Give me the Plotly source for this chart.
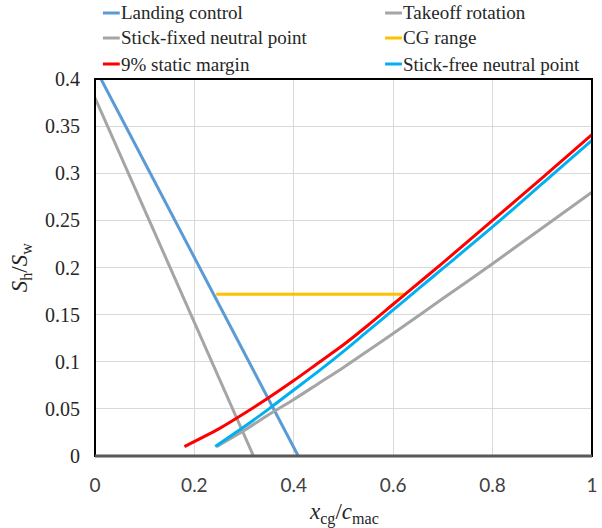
import plotly.graph_objects as go

# --- data -------------------------------------------------------------
landing_x = [0.012, 0.409]
landing_y = [0.400, 0.000]

takeoff_x = [0.000, 0.319]
takeoff_y = [0.380, 0.000]

fixed_np_x = [0.245, 0.30, 0.35, 0.40, 0.45, 0.50, 0.55, 0.60, 0.70, 0.80, 0.90, 1.00]
fixed_np_y = [0.010, 0.027, 0.044, 0.060, 0.077, 0.094, 0.112, 0.130, 0.167, 0.204, 0.242, 0.280]

cg_range_x = [0.244, 0.623]
cg_range_y = [0.1715, 0.1715]

margin9_x = [0.18, 0.25, 0.30, 0.35, 0.40, 0.45, 0.50, 0.55, 0.60, 0.625, 0.70, 0.80, 0.90, 1.00]
margin9_y = [0.010, 0.029, 0.045, 0.062, 0.080, 0.099, 0.118, 0.139, 0.161, 0.172, 0.205, 0.250, 0.295, 0.341]

free_np_x = [0.242, 0.30, 0.35, 0.40, 0.45, 0.50, 0.55, 0.60, 0.65, 0.70, 0.80, 0.90, 1.00]
free_np_y = [0.010, 0.031, 0.050, 0.070, 0.090, 0.111, 0.133, 0.155, 0.177, 0.199, 0.243, 0.289, 0.335]

x_ticks = [0, 0.2, 0.4, 0.6, 0.8, 1]
x_tick_text = ["0", "0.2", "0.4", "0.6", "0.8", "1"]
y_ticks = [0, 0.05, 0.1, 0.15, 0.2, 0.25, 0.3, 0.35, 0.4]
y_tick_text = ["0", "0.05", "0.1", "0.15", "0.2", "0.25", "0.3", "0.35", "0.4"]

series = [
    ("Landing control", landing_x, landing_y, "#5B9BD5"),
    ("Takeoff rotation", takeoff_x, takeoff_y, "#A5A5A5"),
    ("Stick-fixed neutral point", fixed_np_x, fixed_np_y, "#A5A5A5"),
    ("CG range", cg_range_x, cg_range_y, "#FFC000"),
    ("9% static margin", margin9_x, margin9_y, "#FF0000"),
    ("Stick-free neutral point", free_np_x, free_np_y, "#00B0F0"),
]

SERIF = "Liberation Serif, Times New Roman, serif"

# --- figure -----------------------------------------------------------
W, H = 602, 528
L, R, T, B = 95, 5, 79, 72
plot_w = W - L - R
plot_h = H - T - B

fig = go.Figure()
for name, xs, ys, color in series:
    fig.add_trace(go.Scatter(x=xs, y=ys, mode="lines", name=name,
                             line=dict(color=color, width=3, shape="spline", smoothing=0.8),
                             showlegend=False, cliponaxis=True))

# Legend drawn as two columns of short line samples with text
legend_cols = [103, 388]
legend_rows = [13, 38, 64]
shapes = []
annotations = []
for i, (name, _, _, color) in enumerate(series):
    cx = legend_cols[i % 2]
    cy = legend_rows[i // 2]
    px0 = (cx - L) / plot_w
    px1 = (cx + 17 - L) / plot_w
    py = (H - B - cy) / plot_h
    shapes.append(dict(type="line", xref="paper", yref="paper",
                       x0=px0, x1=px1, y0=py, y1=py,
                       line=dict(color=color, width=3)))
    annotations.append(dict(xref="paper", yref="paper", x=px1, y=py,
                            text=name, showarrow=False, xanchor="left",
                            yanchor="middle", xshift=-1,
                            font=dict(family=SERIF, size=19, color="#262626")))

# Plot frame and bottom axis line
shapes.append(dict(type="rect", xref="paper", yref="paper", x0=0, x1=1, y0=0, y1=1,
                   line=dict(color="black", width=2), layer="above"))
shapes.append(dict(type="line", xref="paper", yref="paper", x0=0, x1=1, y0=0, y1=0,
                   line=dict(color="#595959", width=3), layer="above"))

# Axis titles
annotations.append(dict(xref="paper", yref="paper", x=0.5, y=(H - B - 513) / plot_h,
                        text="<i>x</i><sub>cg</sub>/<i>c</i><sub>mac</sub>",
                        showarrow=False, xanchor="center", yanchor="middle",
                        font=dict(family=SERIF, size=23, color="#262626")))
annotations.append(dict(xref="paper", yref="paper", x=(20 - L) / plot_w, y=0.5,
                        text="<i>S</i><sub>h</sub>/<i>S</i><sub>w</sub>",
                        showarrow=False, xanchor="center", yanchor="middle",
                        textangle=-90,
                        font=dict(family=SERIF, size=23, color="#262626")))

fig.update_layout(
    width=W, height=H,
    margin=dict(l=L, r=R, t=T, b=B),
    paper_bgcolor="white", plot_bgcolor="white",
    shapes=shapes, annotations=annotations,
    xaxis=dict(range=[0, 1.0002], tickvals=x_ticks, ticktext=x_tick_text,
               showgrid=True, gridcolor="#D9D9D9", gridwidth=1,
               zeroline=False, showline=False, ticks="",
               ticklabelstandoff=16, ticklabeloverflow="allow",
               tickfont=dict(family="Lato, Carlito, sans-serif", size=19, color="#404040")),
    yaxis=dict(range=[0, 0.4], tickvals=y_ticks, ticktext=y_tick_text,
               showgrid=True, gridcolor="#D9D9D9", gridwidth=1,
               zeroline=False, showline=False, ticks="",
               ticklabelstandoff=14,
               tickfont=dict(family=SERIF, size=20, color="#262626")),
)

fig.write_html("out.html")
